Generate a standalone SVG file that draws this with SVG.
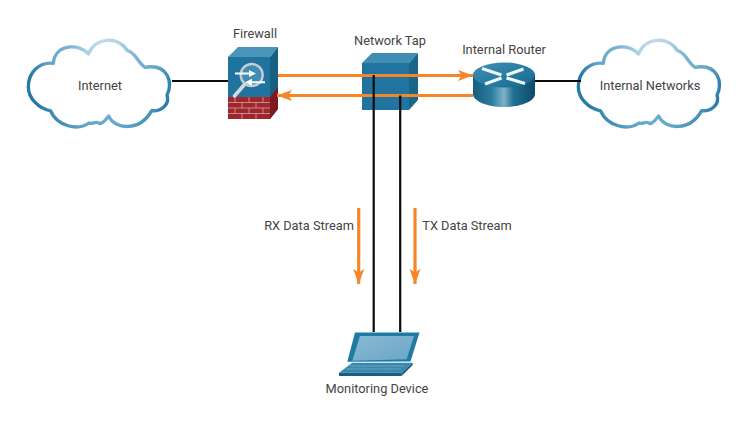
<svg xmlns="http://www.w3.org/2000/svg" xmlns:xlink="http://www.w3.org/1999/xlink" width="753" height="426" viewBox="0 0 753 426">
<style>
text{font-family:Roboto,"Liberation Sans",sans-serif;font-size:12.8px;fill:#444;text-anchor:middle}
.blk{stroke:#0c0c0c;stroke-width:2.2;fill:none}
.org{stroke:#f6862a;stroke-width:3.2;fill:none}
.wht{fill:#fff}
.brick{stroke:#d9b3b3;stroke-width:.7;fill:none}
.rar{stroke:#eef6f9;stroke-width:3.2;fill:none}
</style>
<defs>
<radialGradient id="cg" gradientUnits="userSpaceOnUse" cx="0" cy="0" r="1" gradientTransform="translate(250 50) scale(225 340)">
<stop offset="0" stop-color="#c3dcea"/><stop offset=".22" stop-color="#aed2e3"/><stop offset=".42" stop-color="#7fb6d2"/><stop offset=".75" stop-color="#62a5c8"/><stop offset="1" stop-color="#2579a5"/>
</radialGradient>
<path id="cloud" fill="#fff" stroke="url(#cg)" stroke-width="10" stroke-linejoin="round" d="M100 100C60 95 25 125 25 170C25 205 55 235 92 243C110 285 170 305 207 279C218 285 228 270 240 281C250 280 258 268 266 258C285 300 360 305 395 242C425 245 450 222 441 195C460 160 445 100 375 112C355 100 345 65 322 62C295 18 228 20 205 72C180 40 105 40 100 100Z"/>
<linearGradient id="rb" x1="0" x2="1" y1="0" y2="0"><stop offset="0" stop-color="#14607f"/><stop offset=".3" stop-color="#2a7ca0"/><stop offset=".5" stop-color="#7fb2c8"/><stop offset=".65" stop-color="#1f7094"/><stop offset="1" stop-color="#0e4a66"/></linearGradient>
<linearGradient id="rt" x1="0" x2="1" y1="0" y2="1"><stop offset="0" stop-color="#3d90b5"/><stop offset="1" stop-color="#16698f"/></linearGradient>
<linearGradient id="sc" x1="0" x2="1" y1="0" y2="1"><stop offset="0" stop-color="#8ab9d4"/><stop offset="1" stop-color="#6aa6c7"/></linearGradient>
<marker id="ah" markerUnits="userSpaceOnUse" markerWidth="16" markerHeight="14" refX="15" refY="7" orient="auto"><path d="M0 1.500L15 7L0 12.500L3.500 7Z" fill="#f6862a"/></marker>
</defs>

<g id="internet"><use xlink:href="#cloud" href="#cloud" transform="translate(20 30) scale(.3333)"/><text x="100" y="90">Internet</text></g>

<g id="internal-networks"><use xlink:href="#cloud" href="#cloud" transform="translate(570 30) scale(.3333)"/><text x="650" y="90">Internal Networks</text></g>

<g id="firewall">
<polygon points="228,57 238,47 278,47 270,57" fill="#4a96bb"/>
<polygon points="270,57 278,47 278,109 270,119" fill="#17607f"/>
<rect x="228" y="57" width="42" height="40" fill="#21739f"/>
<rect x="228" y="97" width="42" height="22" fill="#a1262b"/>
<polygon points="270,97 278,87 278,109 270,119" fill="#7d1a20"/>
<path class="brick" d="M228 102.500H270M228 108H270M228 113.500H270M235 97V102.500M249 97V102.500M263 97V102.500M242 102.500V108M256 102.500V108M235 108V113.500M249 108V113.500M263 108V113.500M242 113.500V119M256 113.500V119"/>
<circle cx="251.700" cy="75" r="11" fill="#3f8db4" stroke="#c6ccd0" stroke-width="2.400"/>
<line x1="244.500" y1="84.500" x2="234.500" y2="96" stroke="#d5d9dc" stroke-width="3.600" stroke-linecap="round"/>
<polygon points="235,72.500 249,72.500 249,70 256,73.500 249,77 249,74.500 235,74.500" class="wht"/>
<polygon points="265,83.300 252,83.300 252,85.800 245,82.300 252,78.800 252,81.300 265,81.300" class="wht"/>
<text x="255" y="38">Firewall</text>
</g>

<g id="network-tap">
<polygon points="362,63 372,53 418,53 409,63" fill="#3f8db2"/>
<polygon points="409,63 418,53 418,100 409,110" fill="#1a6687"/>
<rect x="362" y="63" width="47" height="47" fill="#21749f"/>
<text x="390" y="45">Network Tap</text>
</g>

<g id="internal-router">
<path d="M473 75V94C473 101 487 107 504 107C521 107 535 101 535 94V75Z" fill="url(#rb)"/>
<ellipse cx="504" cy="75" rx="31" ry="12.500" fill="url(#rt)"/>
<line class="rar" x1="482" y1="68.500" x2="501.500" y2="75"/>
<line class="rar" x1="523.500" y1="69" x2="506.500" y2="75"/>
<line class="rar" x1="485" y1="84" x2="501.500" y2="78"/>
<line class="rar" x1="525" y1="83.500" x2="506.500" y2="78"/>
<text x="504" y="54">Internal Router</text>
</g>

<g id="monitoring-device">
<polygon points="355,332.500 419.500,332.500 410.500,361.500 347.300,361.700" fill="#1f7aa6"/>
<polygon points="360,336 414,336 406.700,359.300 352.300,360.700" fill="url(#sc)"/>
<polygon points="352.300,362.700 412.700,362.700 401.700,372.700 339,372.700" fill="#3a87ad"/>
<polygon points="339,372.700 401.700,372.700 401.700,376 339,376" fill="#175f80"/>
<polygon points="401.700,372.700 412.700,362.700 412.700,365 401.700,376" fill="#175f80"/>
<path d="M350 366H405M346.500 369H401" stroke="#8fbdd4" stroke-width=".8" stroke-dasharray="1.500 .7"/>
<text x="377" y="393">Monitoring Device</text>
</g>

<g id="connectors">
<line class="blk" x1="172" y1="81" x2="228" y2="81"/>
<line class="blk" x1="535" y1="81" x2="581" y2="81"/>
<line class="org" x1="278" y1="75.500" x2="473" y2="75.500" marker-end="url(#ah)"/>
<line class="org" x1="473" y1="95.500" x2="277" y2="95.500" marker-end="url(#ah)"/>
<line class="blk" x1="373.700" y1="75" x2="373.700" y2="332"/>
<line class="blk" x1="400.200" y1="95.500" x2="400.200" y2="332"/>
<line class="org" x1="358.700" y1="208" x2="358.700" y2="284" marker-end="url(#ah)"/>
<line class="org" x1="415" y1="208" x2="415" y2="284" marker-end="url(#ah)"/>
</g>
<text x="309" y="230">RX Data Stream</text>
<text x="467" y="230">TX Data Stream</text>
</svg>
